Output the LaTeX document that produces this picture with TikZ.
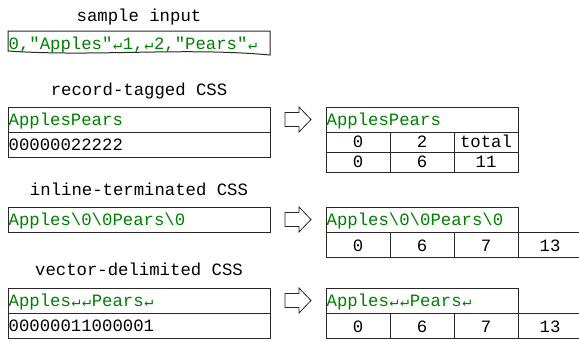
\documentclass[tikz,border=0pt]{standalone}
\usepackage{fontspec}
\setmonofont{Liberation Mono}
\newfontfamily\retfont{DejaVu Sans Mono}
\definecolor{tgreen}{RGB}{0,128,0}
\definecolor{lnc}{RGB}{40,40,40}
\newcommand\ret{\makebox[0.6em][c]{\retfont\fontsize{15}{15}\selectfont ↵}}
\newcommand\bs{\textbackslash}
\begin{document}
\begin{tikzpicture}[x=1pt,y=-1pt,
  box/.style={draw=lnc, line width=1pt},
  harrow/.style={draw=lnc, line width=0.8pt, fill=white},
  base/.style={inner sep=0pt, font=\ttfamily\fontsize{17.3}{20}\selectfont},
  lbl/.style={base, anchor=base},
  ltxt/.style={base, anchor=base west},
  gtxt/.style={ltxt, text=tgreen},
  ctxt/.style={lbl}]
\useasboundingbox (0,0) rectangle (579,341);

% ---------- sample input
\node[lbl] (t0) at (139,21) {sample input};
\draw[box] (8,31) -- (270,31) -- (270,55) .. controls (183,47) and (95,57) .. (8,51) -- cycle;
\node[gtxt] (in) at (8.5,49.5) {0,"Apples"\ret1,\ret2,"Pears"\ret};

% ---------- record-tagged
\node[lbl] (t1) at (139,95) {record-tagged CSS};
\draw[box] (8,107) rectangle (270,132);
\draw[box] (8,132) rectangle (270,157);
\node[gtxt] (r1) at (8.5,125.5) {ApplesPears};
\node[ltxt] (r2) at (8.5,150.5) {00000022222};

\draw[harrow] (285,112.5) -- (299,112.5) -- (299,107) -- (311,119.5) -- (299,132) -- (299,126.5) -- (285,126.5) -- cycle;

\draw[box] (326,107) rectangle (518,132);
\draw[box] (326,132) rectangle (390,152);
\draw[box] (390,132) rectangle (454,152);
\draw[box] (454,132) rectangle (518,152);
\draw[box] (326,152) rectangle (390,172);
\draw[box] (390,152) rectangle (454,172);
\draw[box] (454,152) rectangle (518,172);
\node[gtxt] (rr) at (326.5,125.5) {ApplesPears};
\node[ctxt] (ra1) at (358,147.5) {0};
\node[ctxt] (ra2) at (422,147.5) {2};
\node[ctxt] (ra3) at (486,147.5) {total};
\node[ctxt] (rb1) at (358,167.5) {0};
\node[ctxt] (rb2) at (422,167.5) {6};
\node[ctxt] (rb3) at (486,167.5) {11};

% ---------- inline-terminated
\node[lbl] (t2) at (139,195) {inline-terminated CSS};
\draw[box] (8,207) rectangle (270,232);
\node[gtxt] (i1) at (8.5,225.5) {Apples\bs0\bs0Pears\bs0};

\draw[harrow] (285,212.5) -- (299,212.5) -- (299,207) -- (311,219.5) -- (299,232) -- (299,226.5) -- (285,226.5) -- cycle;

\draw[box] (326,207) rectangle (518,232);
\draw[box] (326,232) rectangle (390,257);
\draw[box] (390,232) rectangle (454,257);
\draw[box] (454,232) rectangle (518,257);
\draw[box] (518,232) rectangle (582,257);
\node[gtxt] (ir) at (326.5,225.5) {Apples\bs0\bs0Pears\bs0};
\node[ctxt] (ia1) at (358,251) {0};
\node[ctxt] (ia2) at (422,251) {6};
\node[ctxt] (ia3) at (486,251) {7};
\node[ctxt] (ia4) at (550,251) {13};

% ---------- vector-delimited
\node[lbl] (t3) at (139,275.5) {vector-delimited CSS};
\draw[box] (8,288) rectangle (270,313);
\draw[box] (8,313) rectangle (270,338);
\node[gtxt] (v1) at (8.5,306.5) {Apples\ret\ret Pears\ret};
\node[ltxt] (v2) at (8.5,331.5) {00000011000001};

\draw[harrow] (285,293.5) -- (299,293.5) -- (299,288) -- (311,300.5) -- (299,313) -- (299,307.5) -- (285,307.5) -- cycle;

\draw[box] (326,288) rectangle (518,313);
\draw[box] (326,313) rectangle (390,338);
\draw[box] (390,313) rectangle (454,338);
\draw[box] (454,313) rectangle (518,338);
\draw[box] (518,313) rectangle (582,338);
\node[gtxt] (vr) at (326.5,306.5) {Apples\ret\ret Pears\ret};
\node[ctxt] (va1) at (358,332) {0};
\node[ctxt] (va2) at (422,332) {6};
\node[ctxt] (va3) at (486,332) {7};
\node[ctxt] (va4) at (550,332) {13};
\end{tikzpicture}
\end{document}
